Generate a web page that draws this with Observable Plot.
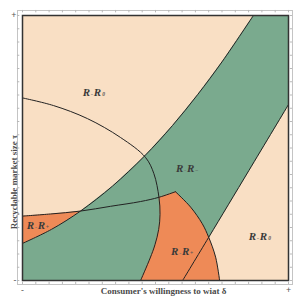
<!DOCTYPE html>
<html><head><meta charset="utf-8">
<script src="https://cdn.jsdelivr.net/npm/d3@7"></script>
<script src="https://cdn.jsdelivr.net/npm/@observablehq/plot@0.6"></script>
<style>html,body{margin:0;padding:0;background:#fff;}</style>
</head><body><div id="chart"></div>
<script>
// Boundary curves (x: willingness to wait, y: recyclable market size; 0..100)
const curveA = [[0,68.9],[11.7,66.0],[24.4,61.1],[36.8,54.0],[46.2,46.5],[49.4,40.3],[51.3,31.4],[51.7,25.0],[51.2,19.3],[49.8,13.5],[48.0,8.5],[44.4,0]];
const curveB = [[0,24.3],[10.5,25.1],[21.8,26.2],[33.1,28.0],[44.4,29.8],[51.3,31.4],[57.5,33.5]];
const curveC = [[57.5,33.5],[63.2,27.7],[67.6,21.4],[70.0,16.3],[72.6,8.8],[74.1,0]];
const curveD = [[0,14.0],[10.9,19.3],[21.8,26.2],[33.8,35.6],[45.9,47.0],[56.4,58.5],[65.8,70.1],[75.2,82.8],[86.8,100]];
const curveE = [[60.2,0],[70.0,16.3],[85.1,41.5],[100,66.4]];

// Region labels "R = R_sub"
const labelMain = ["R","R","R","R","R"];
const labelMid = ["-","-","-","-","-"];
const labelSub = ["0","\u2212","+","+","0"];
const labelX = [26.7,61.7,5.6,59.8,89.1];
const labelY = [70.9,42.3,20.8,10.9,16.6];

const axisTicks = [0,100];
const xTickLabels = ["-","+"];
const yTickLabels = ["-","+"];
const minorTicks = [0,5,10,15,20,25,30,35,40,45,50,55,60,65,70,75,80,85,90,95,100];
const xTitle = "Consumer's willingness to wiat \u03B4";
const yTitle = "Recyclable market size \u03C4";

const BEIGE = "#f9dfc4", GREEN = "#7aaa8e", ORANGE = "#ee8a57", INK = "#222";
const SERIF = "Liberation Serif, DejaVu Serif, serif";

const lo = 0, hi = 100;
// polygons assembled from the boundary curves
const greenPoly = [[lo,lo], ...curveD, [hi,hi], ...curveE.slice().reverse()];
const orange1Poly = [...curveB.slice(0,3), ...curveD.slice(0,3).reverse()];
const orange2Poly = [...curveA.slice(6), ...curveC.slice().reverse(), ...curveB.slice(5).reverse()];

const px = d => d[0], py = d => d[1];
const xLab = new Map(axisTicks.map((t,i)=>[t,xTickLabels[i]]));
const yLab = new Map(axisTicks.map((t,i)=>[t,yTickLabels[i]]));

const poly = (pts, color) => Plot.line(pts, {x: px, y: py, fill: color, stroke: color, strokeWidth: 0.5, curve: "linear", clip: true});
const curve = pts => Plot.line(pts, {x: px, y: py, stroke: INK, strokeWidth: 1, curve: "catmull-rom", clip: true});
const labelPart = (texts, dx, dy, size, color, style) => Plot.text(texts, {x: (d,i)=>labelX[i], y: (d,i)=>labelY[i], text: d=>d, dx, dy, fontFamily: SERIF, fontStyle: style, fontWeight: "bold", fontSize: size, fill: color});

const chart = Plot.plot({
  width: 305, height: 302,
  marginLeft: 22, marginRight: 17, marginTop: 15, marginBottom: 22,
  x: {domain: [lo,hi]}, y: {domain: [lo,hi]},
  style: {background: "#fff"},
  marks: [
    Plot.frame({fill: BEIGE, stroke: "none"}),
    poly(greenPoly, GREEN),
    poly(orange1Poly, ORANGE),
    poly(orange2Poly, ORANGE),
    curve(curveA), curve(curveB), curve(curveC), curve(curveD), curve(curveE),
    Plot.frame({stroke: "#333", strokeWidth: 1.5}),
    Plot.frame({stroke: "#c4c4c4", strokeWidth: 1, insetLeft: -5, insetRight: -4, insetTop: -5, insetBottom: -4}),
    Plot.ruleX(minorTicks, {x: d=>d, y1: -1.5, y2: -0.6, stroke: "#b8b8b8"}),
    Plot.ruleX(minorTicks, {x: d=>d, y1: 101.9, y2: 101.0, stroke: "#b8b8b8"}),
    Plot.ruleY(minorTicks, {y: d=>d, x1: -1.9, x2: -1.0, stroke: "#b8b8b8"}),
    Plot.ruleY(minorTicks, {y: d=>d, x1: 101.5, x2: 100.6, stroke: "#b8b8b8"}),
    Plot.axisX(axisTicks, {anchor: "bottom", tickSize: 0, tickPadding: 6, tickFormat: d => xLab.get(d), fontSize: 9, fill: "#555", label: null}),
    Plot.axisY(axisTicks, {anchor: "left", tickSize: 0, tickPadding: 6, tickFormat: d => yLab.get(d), fontSize: 9, fill: "#555", label: null}),
    labelPart(labelMain, -7, 0, 11, "#3a3a3a", "italic"),
    labelPart(labelMid, -1.5, 1.5, 7, "#777", "normal"),
    labelPart(labelMain, 4, 0, 11, "#3a3a3a", "italic"),
    labelPart(labelSub, 10, 1.5, 5.5, "#555", "italic"),
    Plot.text([xTitle], {text: d=>d, frameAnchor: "bottom", textAnchor: "middle", lineAnchor: "middle", dx: 8, dy: 11, fontFamily: SERIF, fontWeight: "bold", fontSize: 9, fill: "#4a4a4a", ariaLabel: "axis-title"}),
    Plot.text([yTitle], {text: d=>d, frameAnchor: "left", textAnchor: "middle", lineAnchor: "middle", rotate: -90, dx: -8, dy: 34, fontFamily: SERIF, fontWeight: "bold", fontSize: 9, fill: "#4a4a4a", ariaLabel: "axis-title"})
  ]
});
chart.querySelectorAll('g[aria-label="axis-title"] text').forEach(t => t.style.letterSpacing = "1.1px");
document.getElementById("chart").appendChild(chart);
</script>
</body></html>
